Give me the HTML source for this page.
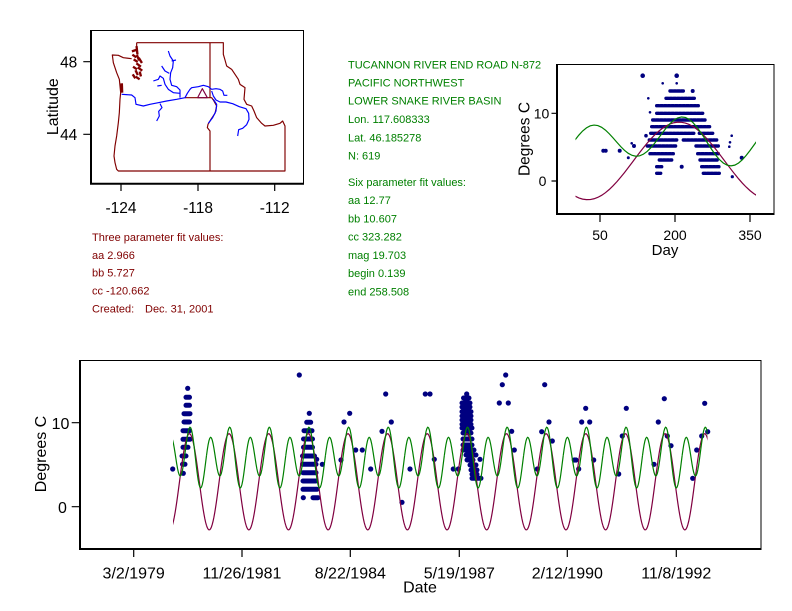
<!DOCTYPE html>
<html><head><meta charset="utf-8"><style>
html,body{margin:0;padding:0;background:#fff;}
svg{display:block;}
text{font-family:"Liberation Sans",Arial,sans-serif;}
</style></head><body>
<svg width="792" height="611" viewBox="0 0 792 611" xmlns="http://www.w3.org/2000/svg">
<defs>
<path id="pc" fill="none" stroke="#800040" stroke-width="1.2" vector-effect="non-scaling-stroke" d="M0,2.224 L7.61,2.496 L15.22,2.674 L22.83,2.755 L30.44,2.739 L38.05,2.625 L45.66,2.416 L53.27,2.114 L60.88,1.726 L68.48,1.257 L76.09,0.715 L83.70,0.111 L91.31,-0.546 L98.92,-1.244 L106.53,-1.972 L114.14,-2.716 L121.75,-3.465 L129.36,-4.205 L136.97,-4.925 L144.58,-5.610 L152.19,-6.251 L159.80,-6.835 L167.41,-7.353 L175.02,-7.796 L182.63,-8.156 L190.23,-8.428 L197.84,-8.606 L205.45,-8.687 L213.06,-8.671 L220.67,-8.557 L228.28,-8.348 L235.89,-8.046 L243.50,-7.658 L251.11,-7.189 L258.72,-6.647 L266.33,-6.043 L273.94,-5.386 L281.55,-4.688 L289.16,-3.960 L296.77,-3.216 L304.38,-2.467 L311.98,-1.727 L319.59,-1.007 L327.20,-0.322 L334.81,0.319 L342.42,0.903 L350.03,1.421 L357.64,1.864 L365.25,2.224"/>
<path id="gc" fill="none" stroke="#008000" stroke-width="1.2" vector-effect="non-scaling-stroke" d="M0,-6.055 L7.61,-6.770 L15.22,-7.381 L22.83,-7.850 L30.44,-8.149 L38.05,-8.262 L45.66,-8.185 L53.27,-7.928 L60.88,-7.515 L68.48,-6.981 L76.09,-6.366 L83.70,-5.721 L91.31,-5.094 L98.92,-4.535 L106.53,-4.087 L114.14,-3.787 L121.75,-3.660 L129.36,-3.719 L136.97,-3.965 L144.58,-4.385 L152.19,-4.952 L159.80,-5.629 L167.41,-6.372 L175.02,-7.130 L182.63,-7.852 L190.23,-8.487 L197.84,-8.989 L205.45,-9.321 L213.06,-9.458 L220.67,-9.386 L228.28,-9.105 L235.89,-8.629 L243.50,-7.985 L251.11,-7.211 L258.72,-6.354 L266.33,-5.465 L273.94,-4.599 L281.55,-3.809 L289.16,-3.144 L296.77,-2.642 L304.38,-2.333 L311.98,-2.233 L319.59,-2.345 L327.20,-2.658 L334.81,-3.148 L342.42,-3.779 L350.03,-4.508 L357.64,-5.284 L365.25,-6.055"/>
<clipPath id="cs"><rect x="575.5" y="60" width="180.5" height="160"/></clipPath>
<clipPath id="cb"><rect x="173" y="355" width="534.5" height="200"/></clipPath>
</defs>

<!-- ============ MAP ============ -->
<g transform="translate(100 36) scale(0.33333)" fill="none" stroke-linejoin="round">
  <path stroke="#800000" stroke-width="3.5" d="M110,20 L370,20 L370,55 L375,72 L380,90 L395,100 L405,115 L415,130 L420,145 L435,155 L432,190 L440,205 L455,210 L462,225 L470,245 L485,262 L495,270 L520,268 L540,262 L548,255 L555,270 L555,405 L55,405 L50,400 L45,380 L42,360 L45,330 L50,300 L55,260 L58,230 L60,190 L62,170 L58,130 L50,110 L45,95 L40,80 L37,57 L55,58 L70,65 L95,68 M110,20 L110,32"/>
  <path stroke="#800000" stroke-width="3.5" d="M330,20 L330,185 M255,185 L335,185 L340,192 L350,210 L345,232 L333,250 L324,265 L322,275 L330,285 L330,405"/>
  <path stroke="#800000" stroke-width="7" stroke-linecap="square" d="M99,45 L108,42 M110,34 L112,52 M100,58 L106,62 M112,60 L116,70 M104,72 L110,76 M118,68 L124,78 M112,84 L120,90 M102,94 L108,98 M116,96 L124,102 M108,106 L112,114 M120,110 L122,118 M100,118 L104,124 M110,124 L116,128"/>
  <path stroke="#800000" stroke-width="8" d="M65,142 L66,170"/>
  <path stroke="#0000ff" stroke-width="3.5" d="M65,175 L95,177 L105,185 L108,205 L130,210 L150,205 L175,200 L200,195 L230,190 L255,185 L262,172 L270,160 L275,155 L295,152 L310,148 L325,152 L335,160 L348,158 L360,160 L368,165 L372,178 L382,178"/>
  <path stroke="#0000ff" stroke-width="3.5" d="M335,165 L340,180 L348,192 L360,198 L378,198 L398,203 L418,212 L438,218 L446,232 L447,250 L440,266 L428,277 L416,281 L413,300"/>
  <path stroke="#0000ff" stroke-width="3.5" d="M340,190 L350,205 L348,225 L338,245 L325,262"/>
  <path stroke="#0000ff" stroke-width="3.5" d="M180,203 L186,215 L176,226 L178,240 L170,255"/>
  <path stroke="#0000ff" stroke-width="3.5" d="M240,185 L240,162 L230,152 L215,148 L210,130 L212,110 L218,95 L220,75 L210,60 L205,45 M215,75 L228,72 M185,90 L195,105 L208,112"/>
  <path stroke="#0000ff" stroke-width="3.5" d="M160,135 L175,130 L180,120 L190,127 L195,145 L205,160 L220,170 L240,172 M172,150 L185,148"/>
  <path stroke="#800040" stroke-width="3.5" d="M307,158 L293,185 L322,185 Z"/>
</g>
<rect x="90.5" y="30.5" width="213" height="153" fill="none" stroke="#000" stroke-width="1"/>
<path d="M91,30 V184.5 M90,183.8 H304" stroke="#000" stroke-width="2" fill="none"/>
<path d="M121,184 V191 M198,184 V191 M274.7,184 V191 M83.3,61.7 H91 M83.3,134.3 H91" stroke="#000" stroke-width="1.2"/>
<g font-size="15.5" fill="#000" text-anchor="middle">
<text x="121" y="213">-124</text>
<text x="198" y="213">-118</text>
<text x="274.7" y="213">-112</text>
<text x="68.7" y="67.5">48</text>
<text x="68.7" y="140">44</text>
<text transform="translate(58 106.7) rotate(-90)" font-size="16">Latitude</text>
</g>

<!-- ============ TEXT BLOCKS ============ -->
<g font-size="11" fill="#800000" style="white-space:pre">
<text x="92" y="241">Three parameter fit values:</text>
<text x="92" y="259">aa 2.966</text>
<text x="92" y="276.7">bb 5.727</text>
<text x="92" y="294.3">cc -120.662</text>
<text x="92" y="312.3">Created:</text>
<text x="145" y="312.3">Dec. 31, 2001</text>
</g>
<g font-size="11" fill="#008000">
<text x="348" y="68.5">TUCANNON RIVER END ROAD N-872</text>
<text x="348" y="86.5">PACIFIC NORTHWEST</text>
<text x="348" y="104.5">LOWER SNAKE RIVER BASIN</text>
<text x="348" y="123">Lon. 117.608333</text>
<text x="348" y="141.3">Lat. 46.185278</text>
<text x="348" y="159.7">N: 619</text>
<text x="348" y="186">Six parameter fit values:</text>
<text x="348" y="204.2">aa 12.77</text>
<text x="348" y="222.5">bb 10.607</text>
<text x="348" y="240.7">cc 323.282</text>
<text x="348" y="258.9">mag 19.703</text>
<text x="348" y="277.1">begin 0.139</text>
<text x="348" y="295.3">end 258.508</text>
</g>

<!-- ============ SMALL CHART ============ -->
<g>
<path fill="none" stroke="#000080" stroke-width="3.4" stroke-linecap="round" stroke-dasharray="2.4 1.3" d="M656.7,173.3H660.7 M703.3,173.3H719.3 M656.7,166.7H661.7 M701.7,166.7H719.3 M659.3,160H671.7 M700,160H718.3 M650,153.7H673.3 M697.7,153.7H718.3 M647.3,146H676.7 M696,146H718.3 M649.3,140H676.7 M683.3,140H716.7 M650.7,133.3H695 M699.3,133.3H712.7 M651.7,126.7H710 M652.7,120H705 M656.7,113.3H702.7 M656.7,105.7H698.3 M666,98.3H695 M670,91H683.3"/>
<g fill="#000080">
<circle cx="681.7" cy="166.7" r="2"/><circle cx="603.3" cy="150.7" r="2"/><circle cx="605.7" cy="150.7" r="2"/>
<circle cx="619.7" cy="150.7" r="2"/><circle cx="634" cy="146" r="2"/><circle cx="646" cy="135.7" r="1.8"/>
<circle cx="692.7" cy="91" r="2"/><circle cx="642.7" cy="75.7" r="2.3"/><circle cx="676.7" cy="75.7" r="2.3"/>
<circle cx="741.7" cy="157.7" r="2"/><circle cx="732.3" cy="176.7" r="1.6"/><circle cx="628.3" cy="157.7" r="1.5"/>
<circle cx="631.7" cy="143.3" r="1.3"/><circle cx="730" cy="142.3" r="1.3"/><circle cx="729.3" cy="146.7" r="1.3"/>
<circle cx="731.7" cy="135.7" r="1.3"/><circle cx="662.7" cy="83.3" r="1.3"/><circle cx="676.7" cy="83.3" r="1.3"/>
<circle cx="648.3" cy="98.3" r="1.3"/><circle cx="650" cy="112.3" r="1.3"/>
</g>
<g clip-path="url(#cs)"><g transform="translate(575 181) scale(0.5 6.77)"><use href="#pc"/><use href="#gc"/></g></g>
<rect x="556.5" y="64.5" width="217.5" height="150" fill="none" stroke="#000" stroke-width="1"/>
<path d="M557,64 V215 M556,214 H774.5" stroke="#000" stroke-width="2" fill="none"/>
<path d="M600,215 V222 M675,215 V222 M750,215 V222 M551.5,113.3 H557 M551.5,181 H557" stroke="#000" stroke-width="1.2"/>
<g font-size="14" fill="#000" text-anchor="middle">
<text x="600" y="240">50</text>
<text x="675" y="240">200</text>
<text x="750" y="240">350</text>
<text x="541.5" y="118.5">10</text>
<text x="542.5" y="186">0</text>
<text x="665" y="255" font-size="15">Day</text>
<text transform="translate(529.5 139) rotate(-90)" font-size="15.5">Degrees C</text>
</g>
</g>

<!-- ============ BOTTOM CHART ============ -->
<g>
<path fill="none" stroke="#000080" stroke-width="5" stroke-linecap="round" d="M186,397.3H189.5 M186,405.3H189.5 M184,413.7H190 M184,422H189.5 M183,430.7H189.5 M183,439.3H190 M183,447.3H188 M182,456H186 M182.5,464.3H185
M306.7,422.3H310.7 M304,430.7H312 M303.5,439H312.5 M303.5,447.3H312.5 M302.5,456H314.5 M302.5,464.3H316 M303,472.7H316 M303,481H316 M303,489.3H317 M313,497.7H318
M463.5,398H469 M462,403H470 M462,407H470 M462,411.7H471 M462,416H471 M462,420H471 M462,424.3H471 M462,428H472 M463,433H471 M463,439H472 M463,445H472 M463,450H474 M466,455H476 M467,460H473 M470,465H476 M471,470H477 M472,474.3H477 M472,478.3H481"/>
<g fill="#000080">
<circle cx="187.7" cy="388.3" r="2.6"/><circle cx="183.3" cy="473.3" r="2.6"/><circle cx="172.7" cy="469" r="2.6"/>
<circle cx="299.3" cy="375" r="2.6"/><circle cx="309.3" cy="413.3" r="2.6"/><circle cx="303.3" cy="497.7" r="2.6"/>
<circle cx="322.3" cy="464.3" r="2.6"/><circle cx="316.7" cy="459.3" r="2.6"/>
<circle cx="466.7" cy="394" r="2.6"/><circle cx="480" cy="459.3" r="2.6"/>
<circle cx="341" cy="460" r="2.6"/><circle cx="344" cy="422" r="2.6"/><circle cx="349.7" cy="413.3" r="2.6"/>
<circle cx="355.7" cy="450" r="2.6"/><circle cx="362.3" cy="450" r="2.6"/><circle cx="370.7" cy="469" r="2.6"/>
<circle cx="382" cy="431.3" r="2.6"/><circle cx="385.7" cy="394" r="2.6"/><circle cx="391.3" cy="422" r="2.6"/>
<circle cx="402" cy="502.3" r="2.6"/><circle cx="410" cy="469" r="2.6"/><circle cx="425.3" cy="394" r="2.6"/>
<circle cx="430" cy="394" r="2.6"/><circle cx="434.3" cy="459.3" r="2.6"/><circle cx="453.3" cy="469" r="2.6"/>
<circle cx="458.3" cy="469" r="2.6"/><circle cx="499.3" cy="403" r="2.6"/><circle cx="508.3" cy="403" r="2.6"/>
<circle cx="502.3" cy="384.7" r="2.6"/><circle cx="505.7" cy="375" r="2.6"/><circle cx="511.7" cy="431.3" r="2.6"/>
<circle cx="514.3" cy="450" r="2.6"/><circle cx="537.3" cy="469" r="2.6"/><circle cx="541.7" cy="431.7" r="2.6"/>
<circle cx="544.7" cy="384.7" r="2.6"/><circle cx="549" cy="422" r="2.6"/><circle cx="552.3" cy="441" r="2.6"/>
<circle cx="574.3" cy="460" r="2.6"/><circle cx="576" cy="460" r="2.6"/><circle cx="578.7" cy="469" r="2.6"/>
<circle cx="581.7" cy="422" r="2.6"/><circle cx="589.7" cy="422" r="2.6"/><circle cx="585.7" cy="408.3" r="2.6"/>
<circle cx="593.7" cy="460" r="2.6"/><circle cx="618.7" cy="474" r="2.6"/><circle cx="622.3" cy="436" r="2.6"/>
<circle cx="626.3" cy="408.3" r="2.6"/><circle cx="654" cy="464.3" r="2.6"/><circle cx="658.3" cy="422" r="2.6"/>
<circle cx="664.3" cy="398.7" r="2.6"/><circle cx="667.3" cy="436" r="2.6"/><circle cx="671" cy="445.7" r="2.6"/>
<circle cx="692.7" cy="478.3" r="2.6"/><circle cx="696.7" cy="450" r="2.6"/><circle cx="701.7" cy="436" r="2.6"/>
<circle cx="704.7" cy="403.3" r="2.6"/><circle cx="707.7" cy="431.7" r="2.6"/>
</g>
<g clip-path="url(#cb)"><g transform="translate(127.19 506.7) scale(0.10852 8.4)">
<use href="#pc" x="365.25"/><use href="#pc" x="730.5"/><use href="#pc" x="1095.75"/><use href="#pc" x="1461"/>
<use href="#pc" x="1826.25"/><use href="#pc" x="2191.5"/><use href="#pc" x="2556.75"/><use href="#pc" x="2922"/>
<use href="#pc" x="3287.25"/><use href="#pc" x="3652.5"/><use href="#pc" x="4017.75"/><use href="#pc" x="4383"/>
<use href="#pc" x="4748.25"/><use href="#pc" x="5113.5"/>
<use href="#gc" x="365.25"/><use href="#gc" x="730.5"/><use href="#gc" x="1095.75"/><use href="#gc" x="1461"/>
<use href="#gc" x="1826.25"/><use href="#gc" x="2191.5"/><use href="#gc" x="2556.75"/><use href="#gc" x="2922"/>
<use href="#gc" x="3287.25"/><use href="#gc" x="3652.5"/><use href="#gc" x="4017.75"/><use href="#gc" x="4383"/>
<use href="#gc" x="4748.25"/><use href="#gc" x="5113.5"/>
</g></g>
<rect x="79.5" y="360.5" width="681.5" height="188.5" fill="none" stroke="#000" stroke-width="1"/>
<path d="M80,360 V550 M79,549 H761.5" stroke="#000" stroke-width="2" fill="none"/>
<path d="M133.7,550 V557 M242,550 V557 M350.3,550 V557 M459.3,550 V557 M567.3,550 V557 M676.3,550 V557 M71.7,422.7 H80 M71.7,506.7 H80" stroke="#000" stroke-width="1.2"/>
<g font-size="16" fill="#000" text-anchor="middle">
<text x="133.7" y="578.3">3/2/1979</text>
<text x="242" y="578.3">11/26/1981</text>
<text x="350.3" y="578.3">8/22/1984</text>
<text x="459.3" y="578.3">5/19/1987</text>
<text x="567.3" y="578.3">2/12/1990</text>
<text x="676.3" y="578.3">11/8/1992</text>
<text x="420" y="592.7">Date</text>
<text x="60.5" y="429">10</text>
<text x="62.5" y="513">0</text>
<text transform="translate(46 454) rotate(-90)">Degrees C</text>
</g>
</g>
</svg>
</body></html>
